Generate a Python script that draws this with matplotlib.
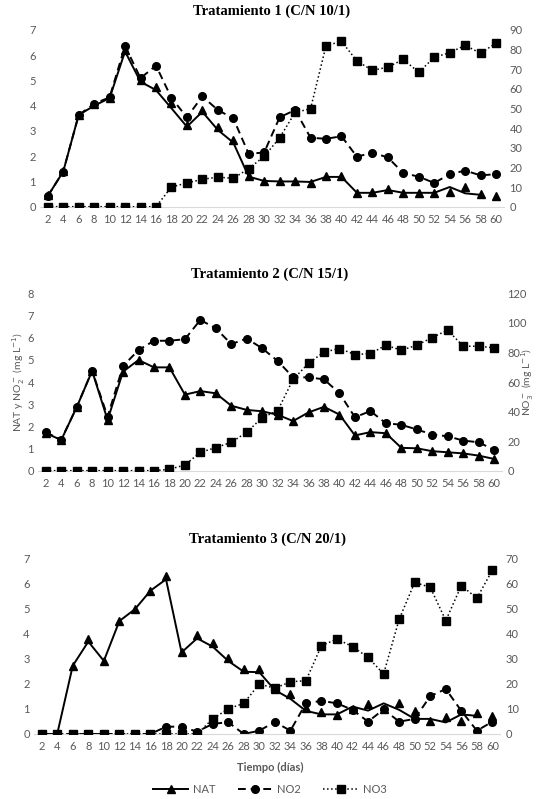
import numpy as np
import matplotlib
matplotlib.use("Agg")
import matplotlib.pyplot as plt
from matplotlib.lines import Line2D

plt.rcParams['font.family'] = ['Lato', 'DejaVu Sans']

# -------------------------------
days = list(range(2, 62, 2))
nan = np.nan

# Tratamiento 1 (C/N 10/1)
nat1_line = [0.42, 1.39, 3.63, 4.0, 4.3, 6.15, 4.95, 4.62, 3.9, 3.17, 3.76, 3.04, 2.54, 1.19, 1.02,
             1.0, 1.0, 0.98, 1.18, 1.18, 0.55, 0.55, 0.66, 0.55, 0.55, 0.55, 0.78, 0.53, 0.47, nan]
nat1_pts = [0.45, 1.4, 3.63, 4.05, 4.3, 6.2, 5.0, 4.75, 4.12, 3.24, 3.83, 3.15, 2.64, 1.23, 1.03,
            1.02, 1.02, 0.95, 1.21, 1.2, 0.55, 0.57, 0.69, 0.53, 0.53, 0.53, 0.57, 0.79, 0.5, 0.44]
no2_1 = [0.42, 1.39, 3.63, 4.08, 4.33, 6.37, 5.09, 5.59, 4.31, 3.54, 4.37, 3.83, 3.5, 2.09, 2.15,
         3.54, 3.83, 2.73, 2.69, 2.79, 1.98, 2.14, 1.95, 1.33, 1.19, 0.94, 1.29, 1.43, 1.24, 1.29]
no3_1 = [0, 0, 0, 0, 0, 0, 0, 0, 10.0, 12.1, 13.9, 15.1, 14.4, 19.4, 25.6,
         35.1, 48.0, 49.9, 82.0, 84.2, 74.2, 69.4, 71.1, 75.0, 68.4, 76.1, 78.4, 82.2, 78.1, 83.4]

# Tratamiento 2 (C/N 15/1)
nat2_line = [1.7, 1.38, 2.86, 4.5, 2.29, 4.47, 4.99, 4.66, 4.66, 3.43, 3.59, 3.49, 2.93, 2.74, 2.68,
             2.52, 2.24, 2.63, 2.88, 2.53, 1.59, 1.74, 1.69, 1.03, 1.01, 0.88, 0.83, 0.78, 0.68, 0.53]
nat2_pts = nat2_line
no2_2 = [1.73, 1.4, 2.86, 4.51, 2.44, 4.72, 5.44, 5.86, 5.86, 5.93, 6.8, 6.42, 5.71, 5.96, 5.52,
         4.95, 4.21, 4.21, 4.12, 3.49, 2.41, 2.69, 2.14, 2.07, 1.86, 1.63, 1.55, 1.36, 1.28, 0.94]
no3_2 = [0, 0, 0, 0, 0, 0, 0, 0, 0.9, 3.9, 12.4, 15.6, 19.2, 26.0, 35.9,
         40.6, 61.8, 72.7, 80.3, 82.6, 78.6, 79.2, 84.9, 81.5, 84.9, 90.1, 95.1, 84.2, 84.2, 83.1]

# Tratamiento 3 (C/N 20/1)
nat3_line = [0, 0, 2.72, 3.68, 2.91, 4.5, 4.97, 5.71, 6.16, 3.25, 3.81, 3.48, 2.91, 2.48, 2.46,
             1.75, 1.4, 0.92, 0.78, 0.78, 1.09, 0.93, 1.22, 0.96, 0.6, 0.6, 0.46, 0.78, 0.72, nan]
nat3_pts = [0, 0, 2.72, 3.78, 2.91, 4.5, 4.97, 5.71, 6.31, 3.25, 3.94, 3.61, 3.04, 2.59, 2.57,
            1.8, 1.59, 1.05, 0.86, 0.76, 0.98, 1.18, 0.98, 1.25, 0.93, 0.52, 0.66, 0.52, 0.85, 0.72]
no2_3 = [0, 0, 0, 0, 0, 0, 0, 0, 0.29, 0.29, 0.09, 0.4, 0.47, 0.0, 0.13,
         0.48, 0.13, 1.22, 1.32, 1.22, 0.96, 0.49, 0.98, 0.49, 0.6, 1.51, 1.79, 0.92, 0.13, 0.49]
no3_3 = [0, 0, 0, 0, 0, 0, 0, 0, 0, 0, 0, 6.0, 10.0, 12.2, 19.9,
         18.2, 20.8, 21.2, 35.2, 37.8, 34.8, 30.5, 23.9, 45.7, 60.4, 58.4, 45.2, 59.1, 54.1, 65.3]

titles = ["Tratamiento 1 (C/N 10/1)", "Tratamiento 2 (C/N 15/1)", "Tratamiento 3 (C/N 20/1)"]
# -------------------------------

GRAY = '#595959'
dash = (0, (4, 2.5))


def panel(fig, rect, title, nat_line, nat_pts, no2, no3, ymax_l, ymax_r, step_r):
    ax = fig.add_axes(rect)
    ax.plot(days, nat_line, color='black', lw=1.4)
    ax.plot(days, nat_pts, ls='none', marker='^', ms=6, color='black')
    ax.plot(days, no2, color='black', lw=1.4, ls=dash, marker='o', ms=5.5)
    ax.set_xlim(1, 61)
    ax.set_ylim(0, ymax_l)
    ax.set_yticks(range(0, ymax_l + 1))
    ax.set_xticks(days)
    ax.tick_params(length=0, labelsize=8, labelcolor=GRAY)
    ax.tick_params(axis='x', pad=5)
    ax.tick_params(axis='y', pad=3)
    for s in ['top', 'right', 'left']:
        ax.spines[s].set_visible(False)
    ax.spines['bottom'].set_color('#d9d9d9')

    ax2 = ax.twinx()
    ax2.plot(days, no3, color='black', lw=1.1, ls=':', marker='s', ms=5.5)
    ax2.set_ylim(0, ymax_r)
    ax2.set_yticks(range(0, ymax_r + 1, step_r))
    ax2.tick_params(length=0, labelsize=8, labelcolor=GRAY, pad=4)
    for s in ax2.spines.values():
        s.set_visible(False)

    ax.set_title(title, fontsize=10.5, fontweight='bold', family='Liberation Serif', pad=11)
    return ax


fig = plt.figure(figsize=(5.4, 7.99), dpi=100)

panel(fig, [0.0741, 0.7413, 0.8589, 0.2212], titles[0], nat1_line, nat1_pts, no2_1, no3_1, 7, 90, 10)
panel(fig, [0.0704, 0.4109, 0.8589, 0.2220], titles[1], nat2_line, nat2_pts, no2_2, no3_2, 8, 120, 20)
panel(fig, [0.0628, 0.0814, 0.8635, 0.2199], titles[2], nat3_line, nat3_pts, no2_3, no3_3, 7, 70, 10)

# axis titles of the middle panel
fig.text(0.034, 0.522, r'NAT y NO$_2^-$ (mg L$^{-1}$)', rotation=90, ha='center', va='center',
         fontsize=7.5, color=GRAY)
fig.text(0.977, 0.522, r'NO$_3^-$ (mg L$^{-1}$)', rotation=90, ha='center', va='center',
         fontsize=7.5, color=GRAY)

fig.text(0.5, 0.039, 'Tiempo (días)', ha='center', va='center', fontsize=8, fontweight='bold', color=GRAY)

handles = [
    Line2D([], [], color='black', lw=1.4, marker='^', ms=6),
    Line2D([], [], color='black', lw=1.4, ls=dash, marker='o', ms=5.5),
    Line2D([], [], color='black', lw=1.1, ls=':', marker='s', ms=5.5),
]
leg = fig.legend(handles, ['NAT', 'NO2', 'NO3'], loc='center', bbox_to_anchor=(0.5, 0.0125), ncol=3,
                 frameon=False, fontsize=8, handlelength=3.2, columnspacing=2.0, handletextpad=0.4)
for t in leg.get_texts():
    t.set_color(GRAY)

fig.savefig('out.png', dpi=100)
